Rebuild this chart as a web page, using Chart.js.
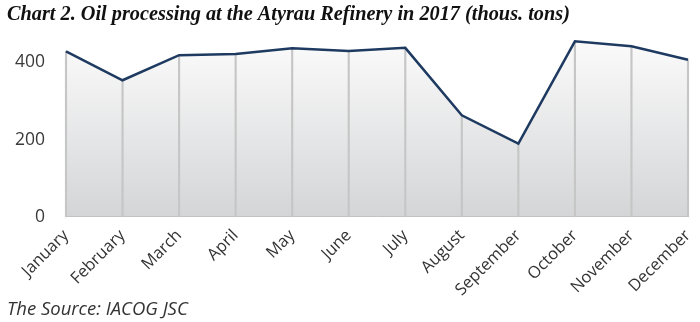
<!DOCTYPE html>
<html>
<head>
<meta charset="utf-8">
<script src="https://cdn.jsdelivr.net/npm/chart.js@4.4.1/dist/chart.umd.min.js"></script>
<style>
    html, body { margin: 0; padding: 0; background: #fff; }
    #wrap { width: 700px; height: 322px; }
</style>
</head>
<body>
<div id="wrap"><canvas id="oilChart"></canvas></div>
<script>
const months = ['January', 'February', 'March', 'April', 'May', 'June', 'July',
    'August', 'September', 'October', 'November', 'December'];
const oilValues = [429, 354, 419, 422, 437, 430, 438, 263, 190, 455, 442, 407];
const yTicks = [0, 200, 400];

const titleText = 'Chart 2. Oil processing at the Atyrau Refinery in 2017 (thous. tons)';
const sourceText = 'The Source: IACOG JSC';

const oilChartElem = document.getElementById('oilChart').getContext('2d');

function fillGradient(context) {
    const area = context.chart.chartArea;
    if (!area) return '#e8e8e8';
    const g = context.chart.ctx.createLinearGradient(0, area.top, 0, area.bottom);
    g.addColorStop(0, '#fbfbfb');
    g.addColorStop(1, '#d4d5d7');
    return g;
}

const oilData = {
    labels: months,
    datasets: [
        {
            // line stroke on top
            type: 'line',
            data: oilValues,
            borderColor: '#1e3a60',
            borderWidth: 2.5,
            fill: false,
            tension: 0,
            pointRadius: 0,
            clip: false,
            order: 1,
        },
        {
            // thin vertical dividers under the line
            type: 'bar',
            data: oilValues,
            backgroundColor: '#c6c6c6',
            barThickness: 1.5,
            clip: false,
            order: 2,
        },
        {
            // gradient area
            type: 'line',
            data: oilValues,
            borderWidth: 0,
            borderColor: 'rgba(0,0,0,0)',
            backgroundColor: fillGradient,
            fill: 'origin',
            tension: 0,
            pointRadius: 0,
            clip: false,
            order: 3,
        },
    ],
};

const oilConfig = {
    type: 'line',
    data: oilData,
    options: {
        responsive: true,
        maintainAspectRatio: false,
        animation: false,
        layout: {
            padding: { left: 7, right: 12, top: 0, bottom: 0 },
        },
        scales: {
            x: {
                offset: false,
                grid: { display: false, drawTicks: false },
                border: { display: true, color: '#b4b4b4', width: 1 },
                ticks: {
                    minRotation: 45,
                    maxRotation: 45,
                    padding: 9,
                    color: '#333333',
                    font: { family: 'Open Sans', size: 16.5 },
                    autoSkip: false,
                },
                afterFit: (scale) => {
                    scale.height = 82;
                    scale.paddingLeft = 0;
                    scale.paddingRight = 0;
                },
            },
            y: {
                min: 0,
                max: 460,
                grid: { display: false, drawTicks: false },
                border: { display: false },
                ticks: {
                    stepSize: 200,
                    includeBounds: false,
                    padding: 21,
                    color: '#3a3a3a',
                    font: { family: 'Open Sans', size: 17.5 },
                    callback: (v) => yTicks.includes(v) ? String(v) : null,
                },
                afterFit: (scale) => { scale.width = 59; },
            },
        },
        plugins: {
            legend: { display: false },
            tooltip: { enabled: false },
            title: {
                display: true,
                text: titleText,
                align: 'start',
                color: '#111111',
                font: { family: 'Liberation Serif', size: 20.3, weight: 'bold', style: 'italic' },
                padding: { top: 3, bottom: 12 },
            },
            subtitle: {
                display: true,
                position: 'bottom',
                text: sourceText,
                align: 'start',
                color: '#333333',
                font: { family: 'Open Sans', size: 18.5, style: 'italic' },
                padding: { top: 0, bottom: 1 },
            },
        },
    },
};

const oilChart = new Chart(oilChartElem, oilConfig);
</script>
</body>
</html>
